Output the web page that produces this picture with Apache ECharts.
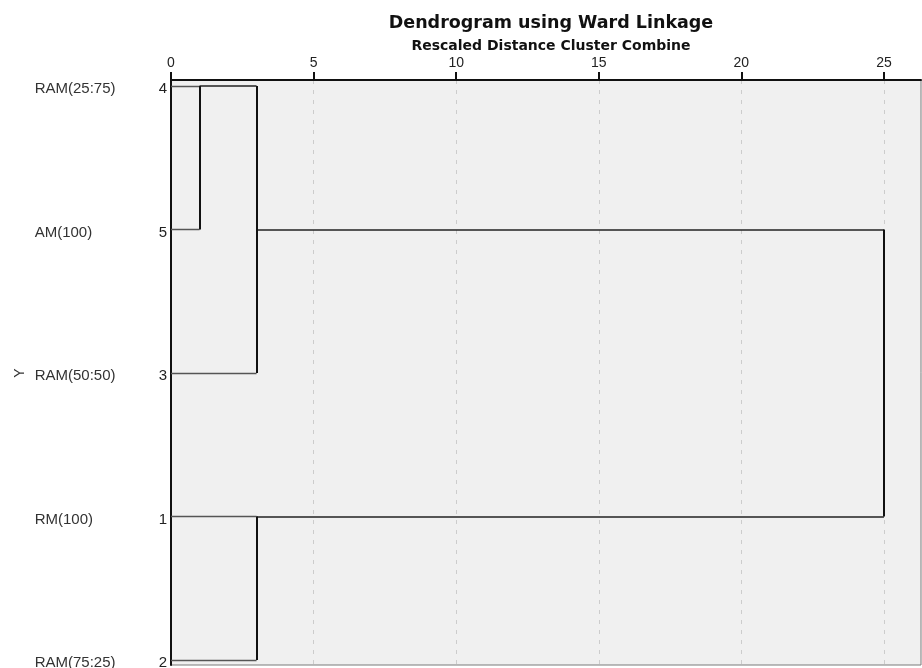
<!DOCTYPE html>
<html>
<head>
<meta charset="utf-8">
<script src="https://cdn.jsdelivr.net/npm/echarts@6/dist/echarts.min.js"></script>
<style>
html,body{margin:0;padding:0;background:#fff;}
#chart{width:922px;height:668px;}
</style>
</head>
<body>
<div id="chart"></div>
<script>
// ---- data ----
const titleText = 'Dendrogram using Ward Linkage';
const subtitleText = 'Rescaled Distance Cluster Combine';
const yAxisName = 'Y';
const caseLabels = ['RAM(25:75)', 'AM(100)', 'RAM(50:50)', 'RM(100)', 'RAM(75:25)'];
const caseNumbers = [4, 5, 3, 1, 2];
const xTicks = [0, 5, 10, 15, 20, 25];
// agglomeration stages (rows are display positions 0..4, top to bottom)
const mergeRowA = [0, 0, 3, 1];
const mergeRowB = [1, 2, 4, 3];
const mergeDistance = [1, 3, 3, 25];
const mergeLineRow = [0, 1, 3, 1];   // row on which the joined cluster's line continues

// ---- build segments from the merges ----
const leafSegs = [], clusterSegs = [], vertSegs = [];
const curX = caseLabels.map(() => 0);
for (let i = 0; i < mergeDistance.length; i++) {
  const a = mergeRowA[i], b = mergeRowB[i], d = mergeDistance[i];
  [a, b].forEach(r => {
    const seg = { coords: [[curX[r], r], [d, r]] };
    (curX[r] === 0 ? leafSegs : clusterSegs).push(seg);
  });
  vertSegs.push({ coords: [[d, Math.min(a, b)], [d, Math.max(a, b)]] });
  curX[mergeLineRow[i]] = d;
}

const chart = echarts.init(document.getElementById('chart'), null, { renderer: 'canvas' });
const FONT = '"Liberation Sans", Arial, sans-serif';
const TFONT = '"DejaVu Sans", "Liberation Sans", sans-serif';
chart.setOption({
  backgroundColor: '#ffffff',
  animation: false,
  title: [
    { text: titleText, left: 546, top: 9, textAlign: 'center',
      textStyle: { fontFamily: TFONT, fontSize: 17.5, fontWeight: 'bold', color: '#111' } },
    { text: subtitleText, left: 546, top: 34, textAlign: 'center',
      textStyle: { fontFamily: TFONT, fontSize: 14, fontWeight: 'bold', color: '#111' } }
  ],
  graphic: [{
    type: 'text', x: 20, y: 373, rotation: Math.PI / 2,
    style: { text: yAxisName, fontFamily: FONT, fontSize: 14, fill: '#333',
      align: 'center', verticalAlign: 'middle' }
  }],
  grid: {
    left: 171, right: 1, top: 80, bottom: 3,
    outerBoundsMode: 'none', containLabel: false,
    show: true, backgroundColor: '#f0f0f0', borderColor: '#7a7a7a', borderWidth: 1
  },
  xAxis: {
    type: 'value', position: 'top', min: 0, max: 26.3, interval: 5,
    axisLine: { show: true, onZero: false, lineStyle: { color: '#111', width: 2 } },
    axisTick: { show: true, length: 8, lineStyle: { color: '#111', width: 2 },
      customValues: xTicks },
    axisLabel: { margin: 10, fontFamily: FONT, fontSize: 14, color: '#222',
      customValues: xTicks },
    splitLine: { show: true, lineStyle: { color: '#cccccc', width: 1, type: [4, 6] } }
  },
  yAxis: {
    type: 'value', inverse: true, min: -0.042, max: 4.035,
    axisLine: { show: true, onZero: false, lineStyle: { color: '#111', width: 2 } },
    axisTick: { show: false },
    splitLine: { show: false },
    axisLabel: {
      margin: 4,
      customValues: caseNumbers.map((_, i) => i),
      formatter: v => '{name|' + caseLabels[v] + '}{num|' + caseNumbers[v] + '}',
      rich: {
        name: { fontFamily: FONT, fontSize: 15, color: '#333', width: 124, align: 'left', padding: [6, 0, 0, 0] },
        num: { fontFamily: FONT, fontSize: 15, color: '#222', padding: [6, 0, 0, 0] }
      }
    }
  },
  series: [
    { type: 'lines', coordinateSystem: 'cartesian2d', silent: true, z: 3,
      lineStyle: { color: '#555', width: 1.3, opacity: 1 }, data: leafSegs },
    { type: 'lines', coordinateSystem: 'cartesian2d', silent: true, z: 4,
      lineStyle: { color: '#222', width: 1.7, opacity: 1 }, data: clusterSegs },
    { type: 'lines', coordinateSystem: 'cartesian2d', silent: true, z: 5,
      lineStyle: { color: '#111', width: 2, opacity: 1 }, data: vertSegs }
  ]
});
</script>
</body>
</html>
